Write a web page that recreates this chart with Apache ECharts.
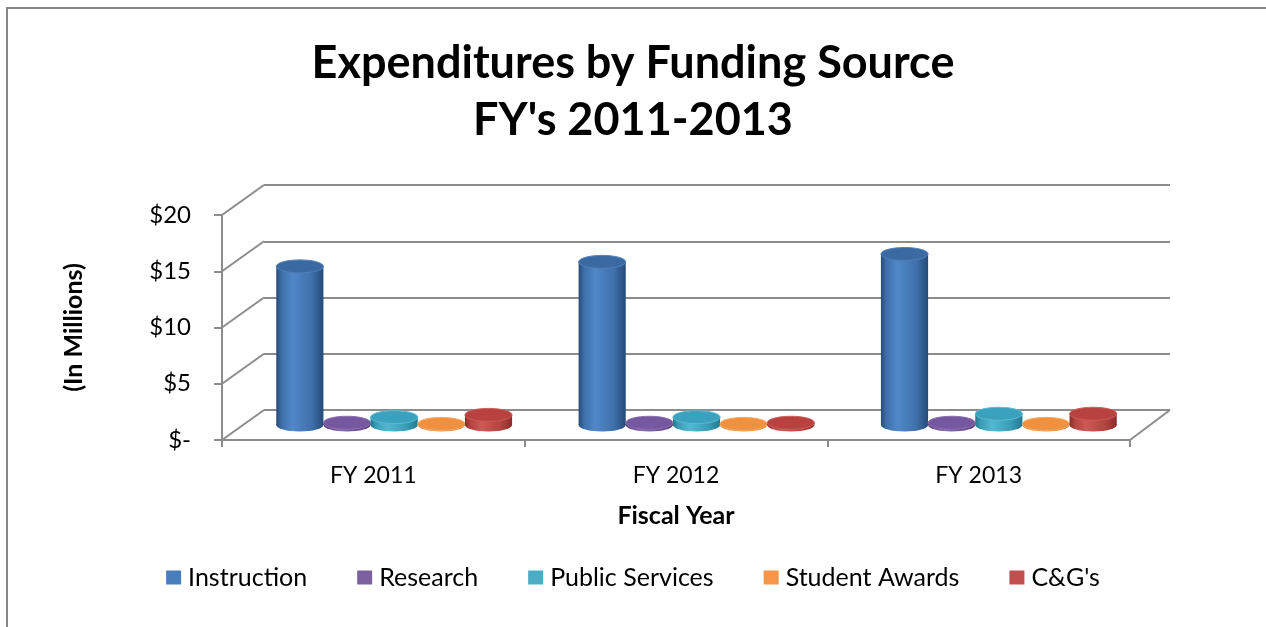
<!DOCTYPE html>
<html>
<head>
<meta charset="utf-8">
<script src="https://cdn.jsdelivr.net/npm/echarts@6/dist/echarts.min.js"></script>
<style>
  html, body { margin: 0; padding: 0; background: #fff; }
  #chart { width: 1266px; height: 627px; }
</style>
</head>
<body>
<div id="chart"></div>
<script>
// Fiscal years on the category axis
const years = ['FY 2011', 'FY 2012', 'FY 2013'];

// Expenditures per funding source, in millions of dollars
const instruction    = [14.1, 14.5, 15.2];
const research       = [0.2, 0.2, 0.2];
const publicServices = [0.7, 0.7, 1.0];
const studentAwards  = [0.1, 0.1, 0.1];
const cgs            = [0.9, 0.2, 1.0];

// Value axis ticks
const yTicks = [0, 5, 10, 15, 20];

const sources = [
  { name: 'Instruction',     values: instruction,
    legend: '#4a7ebb', edge: '#264b78', light: '#5088c8', mid: '#3f70ab', top: '#3b6aa2', rim: '#4f7fb9' },
  { name: 'Research',        values: research,
    legend: '#7d60a0', edge: '#54396f', light: '#8a6cb0', mid: '#6e5193', top: '#7558a0', rim: '#8a6eb0' },
  { name: 'Public Services', values: publicServices,
    legend: '#4bacc6', edge: '#22798f', light: '#52b8d2', mid: '#3a9db7', top: '#3aa2bd', rim: '#5bbbd3' },
  { name: 'Student Awards',  values: studentAwards,
    legend: '#f79646', edge: '#c96a1c', light: '#f9a25a', mid: '#e88a3a', top: '#f0913f', rim: '#f8a860' },
  { name: "C&G's",           values: cgs,
    legend: '#c0504d', edge: '#8c2b29', light: '#cc5a56', mid: '#b44440', top: '#b8423f', rim: '#cc5d59' }
];

const FONT = 'Lato, "Liberation Sans", sans-serif';
const GRID = '#8c8c8c';

// Three parallel planes give the box a sense of depth:
// back wall (gridlines), middle (cylinders) and front (axes).
const back  = { left: 264, top: 185, width: 906, height: 225 };
const mid   = { left: 243, top: 200, width: 907, height: 225 };
const front = { left: 222, top: 215, width: 908, height: 225 };

function gridOf(g) {
  return { left: g.left, top: g.top, width: g.width, height: g.height, containLabel: false };
}

function sideGradient(s) {
  return {
    type: 'linear', x: 0, y: 0, x2: 1, y2: 0,
    colorStops: [
      { offset: 0, color: s.edge },
      { offset: 0.12, color: s.mid },
      { offset: 0.35, color: s.light },
      { offset: 0.75, color: s.mid },
      { offset: 1, color: s.edge }
    ]
  };
}

function cylinderSeries(s, i) {
  return {
    name: s.name,
    type: 'custom',
    xAxisIndex: 1,
    yAxisIndex: 1,
    itemStyle: { color: s.legend },
    data: s.values.map((v, k) => [k, v]),
    renderItem: function (params, api) {
      const cat = api.value(0);
      const val = api.value(1);
      const topPt = api.coord([cat, val]);
      const basePt = api.coord([cat, 0]);
      const band = api.size([1, 0])[0];
      const w = band * 0.156;
      const cx = topPt[0] + (i - 2) * w;
      const rx = w / 2;
      const ry = 6.5;
      const grad = sideGradient(s);
      return {
        type: 'group',
        children: [
          { type: 'ellipse', shape: { cx: cx, cy: basePt[1], rx: rx, ry: ry },
            style: { fill: grad } },
          { type: 'rect', shape: { x: cx - rx, y: topPt[1], width: 2 * rx, height: basePt[1] - topPt[1] },
            style: { fill: grad } },
          { type: 'ellipse', shape: { cx: cx, cy: topPt[1], rx: rx, ry: ry },
            style: { fill: s.top, stroke: s.rim, lineWidth: 1 } }
        ]
      };
    }
  };
}

const chart = echarts.init(document.getElementById('chart'), null, { renderer: 'canvas' });

const option = {
  backgroundColor: '#ffffff',
  animation: false,
  textStyle: { fontFamily: FONT },
  title: {
    text: "Expenditures by Funding Source\nFY's 2011-2013",
    left: 'center',
    top: 30,
    textStyle: { fontFamily: FONT, fontSize: 45, fontWeight: 'bold', color: '#000', lineHeight: 57 }
  },
  legend: {
    top: 560,
    left: 'center',
    icon: 'rect',
    itemWidth: 15,
    itemHeight: 14,
    itemGap: 50,
    textStyle: { fontFamily: FONT, fontSize: 25, color: '#000', padding: [0, 0, 0, 2] },
    data: sources.map(s => s.name)
  },
  grid: [gridOf(back), gridOf(mid), gridOf(front)],
  xAxis: [
    { type: 'category', gridIndex: 0, data: years, show: false },
    { type: 'category', gridIndex: 1, data: years, show: false },
    {
      type: 'category', gridIndex: 2, data: years,
      name: 'Fiscal Year', nameLocation: 'middle', nameGap: 63,
      nameTextStyle: { fontFamily: FONT, fontSize: 25, fontWeight: 'bold', color: '#000' },
      axisLine: { lineStyle: { color: GRID, width: 2 } },
      axisTick: { show: true, length: 7, lineStyle: { color: GRID, width: 2 } },
      axisLabel: { fontFamily: FONT, fontSize: 23, color: '#000', margin: 24 }
    }
  ],
  yAxis: [
    {
      type: 'value', gridIndex: 0, min: 0, max: 20, interval: 5,
      axisLine: { show: false }, axisTick: { show: false }, axisLabel: { show: false },
      splitLine: { show: true, lineStyle: { color: GRID, width: 2 } }
    },
    {
      type: 'value', gridIndex: 1, min: 0, max: 20, interval: 5, show: false,
      splitLine: { show: false }
    },
    {
      type: 'value', gridIndex: 2, min: 0, max: 20, interval: 5,
      name: '(In Millions)', nameLocation: 'middle', nameGap: 136, nameRotate: 90,
      nameTextStyle: { fontFamily: FONT, fontSize: 25, fontWeight: 'bold', color: '#000' },
      axisLine: { show: true, lineStyle: { color: GRID, width: 2 } },
      axisTick: { show: true, length: 8, lineStyle: { color: GRID, width: 2 } },
      axisLabel: {
        fontFamily: FONT, fontSize: 24, color: '#000', margin: 31,
        formatter: v => (v === 0 ? '$-' : '$' + v)
      },
      splitLine: { show: false }
    }
  ],
  series: sources.map(cylinderSeries)
};

chart.setOption(option);

// Depth edges: join every front tick to its gridline on the back wall,
// plus the right edge of the floor.
const edges = [];
yTicks.forEach(v => {
  const yf = chart.convertToPixel({ yAxisIndex: 2 }, v);
  const yb = chart.convertToPixel({ yAxisIndex: 0 }, v);
  edges.push({ type: 'line', silent: true, z: 0,
    shape: { x1: front.left, y1: yf, x2: back.left, y2: yb },
    style: { stroke: GRID, lineWidth: 2 } });
});
const yf0 = chart.convertToPixel({ yAxisIndex: 2 }, 0);
const yb0 = chart.convertToPixel({ yAxisIndex: 0 }, 0);
edges.push({ type: 'line', silent: true, z: 0,
  shape: { x1: front.left + front.width, y1: yf0, x2: back.left + back.width, y2: yb0 },
  style: { stroke: GRID, lineWidth: 2 } });

// Chart frame
edges.push({ type: 'rect', silent: true, z: 0,
  shape: { x: 7, y: 8, width: 1275, height: 640 },
  style: { fill: null, stroke: '#868686', lineWidth: 2 } });

chart.setOption({ graphic: edges });
</script>
</body>
</html>
